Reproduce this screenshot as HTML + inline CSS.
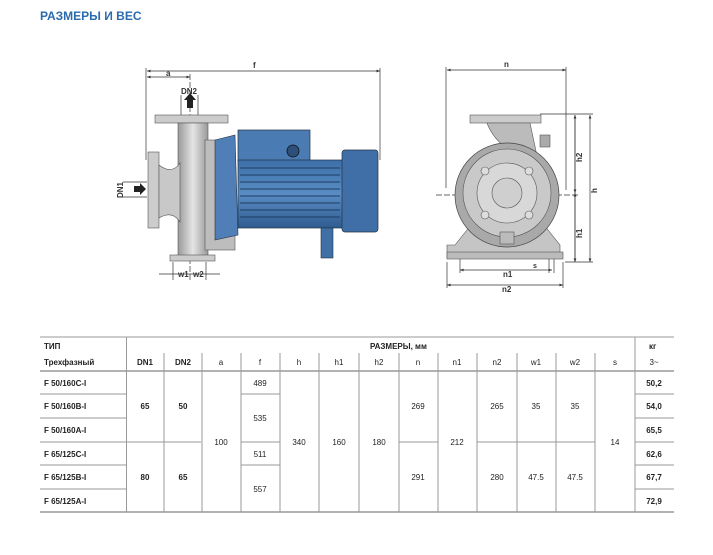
<!DOCTYPE html>
<html><head><meta charset="utf-8"><style>
body{margin:0;background:#fff;width:713px;height:555px;overflow:hidden}
svg{display:block;font-family:"Liberation Sans","DejaVu Sans",sans-serif}
</style></head><body>
<svg width="713" height="555" viewBox="0 0 713 555">
<defs>
<marker id="ar" viewBox="0 0 10 10" refX="10" refY="5" markerWidth="5" markerHeight="5" orient="auto-start-reverse"><path d="M0,1L10,5L0,9z" fill="#333"/></marker>
<linearGradient id="gy" x1="0" x2="1"><stop offset="0" stop-color="#9a9a9a"/><stop offset=".5" stop-color="#e4e4e4"/><stop offset="1" stop-color="#9a9a9a"/></linearGradient>
<linearGradient id="bl" x1="0" y1="0" x2="0" y2="1"><stop offset="0" stop-color="#3d6fa8"/><stop offset=".5" stop-color="#5a8cc4"/><stop offset="1" stop-color="#2f5c90"/></linearGradient>
</defs>
<text x="40" y="20" font-size="12" font-weight="bold" fill="#2a6aad">РАЗМЕРЫ И ВЕС</text>

<!-- LEFT VIEW -->
<g stroke="#333" stroke-width=".7" fill="none">
<line x1="147" y1="71" x2="380" y2="71" marker-start="url(#ar)" marker-end="url(#ar)"/>
<line x1="147" y1="77" x2="190" y2="77" marker-start="url(#ar)" marker-end="url(#ar)"/>
<line x1="146" y1="68" x2="146" y2="160"/><line x1="380" y1="68" x2="380" y2="160"/>
<line x1="190" y1="74" x2="190" y2="280" stroke-dasharray="6,2"/>
<line x1="181" y1="95" x2="181" y2="115"/><line x1="198" y1="95" x2="198" y2="115"/>
<line x1="123" y1="182" x2="147" y2="182"/><line x1="123" y1="197" x2="147" y2="197"/>
<line x1="159" y1="274" x2="220" y2="274"/>
<line x1="173" y1="262" x2="173" y2="280"/><line x1="206" y1="262" x2="206" y2="280"/>
</g>
<text x="253" y="68" font-size="8" font-weight="bold" fill="#333">f</text>
<text x="166" y="76" font-size="8" font-weight="bold" fill="#333">a</text>
<text x="181" y="94" font-size="8" font-weight="bold" fill="#333">DN2</text>
<text x="123" y="198" font-size="8" font-weight="bold" fill="#333" transform="rotate(-90 123 198)">DN1</text>
<text x="178" y="277" font-size="8" font-weight="bold" fill="#333">w1</text>
<text x="193" y="277" font-size="8" font-weight="bold" fill="#333">w2</text>
<path d="M187,108h6v-8h3l-6,-7l-6,7h3z" fill="#222"/>
<path d="M134,186h6v-3l6,6l-6,6v-3h-6z" fill="#222"/>
<!-- pump body -->
<rect x="155" y="115" width="73" height="8" fill="#ccc" stroke="#555" stroke-width=".6"/>
<rect x="178" y="123" width="30" height="135" fill="url(#gy)" stroke="#555" stroke-width=".6"/>
<rect x="148" y="152" width="11" height="76" fill="#ccc" stroke="#555" stroke-width=".6"/>
<path d="M159,165 Q172,175 180,163 V222 Q172,210 159,218z" fill="#c8c8c8" stroke="#555" stroke-width=".6"/>
<rect x="205" y="140" width="30" height="110" fill="#bdbdbd" stroke="#555" stroke-width=".6"/>
<rect x="170" y="255" width="45" height="6" fill="#ccc" stroke="#555" stroke-width=".6"/>
<path d="M215,140 L235,135 L238,235 L215,240z" fill="#4f7fb6" stroke="#234" stroke-width=".6"/>
<!-- motor -->
<rect x="238" y="130" width="72" height="32" fill="#4a7bb3" stroke="#234" stroke-width=".7"/>
<circle cx="293" cy="151" r="6" fill="#2d4f7a" stroke="#111" stroke-width=".8"/>
<rect x="238" y="160" width="108" height="68" fill="url(#bl)" stroke="#234" stroke-width=".7"/>
<g stroke="#1e3d63" stroke-width="1">
<line x1="240" y1="168" x2="340" y2="168"/><line x1="240" y1="175" x2="340" y2="175"/><line x1="240" y1="182" x2="340" y2="182"/><line x1="240" y1="189" x2="340" y2="189"/><line x1="240" y1="196" x2="340" y2="196"/><line x1="240" y1="203" x2="340" y2="203"/><line x1="240" y1="210" x2="340" y2="210"/><line x1="240" y1="217" x2="340" y2="217"/>
</g>
<rect x="342" y="150" width="36" height="82" rx="3" fill="#3f6fa6" stroke="#234" stroke-width=".7"/>
<rect x="321" y="228" width="12" height="30" fill="#3f6fa6" stroke="#234" stroke-width=".6"/>

<!-- RIGHT VIEW -->
<g stroke="#333" stroke-width=".7" fill="none">
<line x1="447" y1="70" x2="566" y2="70" marker-start="url(#ar)" marker-end="url(#ar)"/>
<line x1="446" y1="67" x2="446" y2="188"/><line x1="566" y1="67" x2="566" y2="190"/>
<line x1="575" y1="115" x2="575" y2="262" />
<line x1="575" y1="115" x2="575" y2="193" marker-start="url(#ar)" marker-end="url(#ar)"/>
<line x1="575" y1="193" x2="575" y2="262" marker-start="url(#ar)" marker-end="url(#ar)"/>
<line x1="590" y1="115" x2="590" y2="262" marker-start="url(#ar)" marker-end="url(#ar)"/>
<line x1="540" y1="114" x2="593" y2="114"/><line x1="565" y1="262" x2="593" y2="262"/>
<line x1="436" y1="195" x2="580" y2="195" stroke-dasharray="6,2"/>
<line x1="460" y1="270" x2="552" y2="270" marker-start="url(#ar)" marker-end="url(#ar)"/>
<line x1="447" y1="285" x2="563" y2="285" marker-start="url(#ar)" marker-end="url(#ar)"/>
<line x1="460" y1="258" x2="460" y2="273"/><line x1="447" y1="262" x2="447" y2="288"/><line x1="563" y1="262" x2="563" y2="288"/>
<line x1="549" y1="256" x2="549" y2="273"/><line x1="554" y1="256" x2="554" y2="273"/>
</g>
<text x="504" y="67" font-size="8" font-weight="bold" fill="#333">n</text>
<text x="503" y="277" font-size="8" font-weight="bold" fill="#333">n1</text>
<text x="502" y="292" font-size="8" font-weight="bold" fill="#333">n2</text>
<text x="533" y="268" font-size="7" font-weight="bold" fill="#333">s</text>
<text x="582" y="162" font-size="8" font-weight="bold" fill="#333" transform="rotate(-90 582 162)">h2</text>
<text x="582" y="238" font-size="8" font-weight="bold" fill="#333" transform="rotate(-90 582 238)">h1</text>
<text x="597" y="193" font-size="8" font-weight="bold" fill="#333" transform="rotate(-90 597 193)">h</text>
<path d="M455,245 L475,220 L540,220 L560,245 V258 H447 V245z" fill="#c5c5c5" stroke="#555" stroke-width=".6"/>
<rect x="447" y="252" width="116" height="7" fill="#bbb" stroke="#555" stroke-width=".6"/>
<rect x="470" y="115" width="71" height="8" fill="#ccc" stroke="#555" stroke-width=".6"/>
<path d="M487,123 Q495,145 525,160 L540,170 L530,123z" fill="#bbb" stroke="#555" stroke-width=".6"/>
<rect x="540" y="135" width="10" height="12" fill="#aaa" stroke="#555" stroke-width=".6"/>
<circle cx="507" cy="195" r="52" fill="#a9a9a9" stroke="#444" stroke-width=".7"/>
<circle cx="507" cy="193" r="44" fill="#c9c9c9" stroke="#555" stroke-width=".6"/>
<circle cx="507" cy="193" r="30" fill="#d8d8d8" stroke="#555" stroke-width=".6"/>
<circle cx="507" cy="193" r="15" fill="#cfcfcf" stroke="#555" stroke-width=".6"/>
<g fill="#ddd" stroke="#555" stroke-width=".6"><circle cx="485" cy="171" r="4"/><circle cx="529" cy="171" r="4"/><circle cx="485" cy="215" r="4"/><circle cx="529" cy="215" r="4"/></g>
<rect x="500" y="232" width="14" height="12" fill="#bbb" stroke="#555" stroke-width=".6"/>

<!-- TABLE -->
<g stroke="#999" stroke-width="1">
<line x1="40" y1="337" x2="674" y2="337"/>
<line x1="40" y1="371" x2="674" y2="371" stroke-width="1.5"/>
<line x1="40" y1="512" x2="674" y2="512" stroke-width="1.5"/>
<line x1="40" y1="394" x2="126" y2="394"/><line x1="40" y1="418" x2="126" y2="418"/><line x1="40" y1="442" x2="201" y2="442"/><line x1="40" y1="465" x2="126" y2="465"/><line x1="40" y1="489" x2="126" y2="489"/>
<line x1="241" y1="394" x2="280" y2="394"/><line x1="241" y1="442" x2="280" y2="442"/><line x1="241" y1="465" x2="280" y2="465"/>
<line x1="399" y1="442" x2="438" y2="442"/><line x1="477" y1="442" x2="595" y2="442"/>
<line x1="635" y1="394" x2="674" y2="394"/><line x1="635" y1="418" x2="674" y2="418"/><line x1="635" y1="442" x2="674" y2="442"/><line x1="635" y1="465" x2="674" y2="465"/><line x1="635" y1="489" x2="674" y2="489"/>
<line x1="126.5" y1="337" x2="126.5" y2="512"/><line x1="635" y1="337" x2="635" y2="512"/>
<g>
<line x1="164" y1="353" x2="164" y2="512"/><line x1="202" y1="353" x2="202" y2="512"/><line x1="241" y1="353" x2="241" y2="512"/><line x1="280" y1="353" x2="280" y2="512"/><line x1="319" y1="353" x2="319" y2="512"/><line x1="359" y1="353" x2="359" y2="512"/><line x1="399" y1="353" x2="399" y2="512"/><line x1="438" y1="353" x2="438" y2="512"/><line x1="477" y1="353" x2="477" y2="512"/><line x1="517" y1="353" x2="517" y2="512"/><line x1="556" y1="353" x2="556" y2="512"/><line x1="595" y1="353" x2="595" y2="512"/>
</g>
</g>
<g font-size="8" fill="#222" font-weight="bold">
<text x="44" y="349">ТИП</text><text x="44" y="365">Трехфазный</text>
<text x="370" y="349">РАЗМЕРЫ, мм</text>
<text x="649" y="349">кг</text>
<text x="44" y="386">F 50/160C-I</text><text x="44" y="409">F 50/160B-I</text><text x="44" y="433">F 50/160A-I</text>
<text x="44" y="457">F 65/125C-I</text><text x="44" y="480">F 65/125B-I</text><text x="44" y="504">F 65/125A-I</text>
</g>
<g font-size="8" fill="#222" text-anchor="middle">
<g font-weight="bold"><text x="145" y="365">DN1</text><text x="183" y="365">DN2</text>
<text x="145" y="409">65</text><text x="183" y="409">50</text><text x="145" y="480">80</text><text x="183" y="480">65</text>
<text x="654" y="386">50,2</text><text x="654" y="409">54,0</text><text x="654" y="433">65,5</text><text x="654" y="457">62,6</text><text x="654" y="480">67,7</text><text x="654" y="504">72,9</text></g>
<text x="221" y="365">a</text><text x="260" y="365">f</text><text x="299" y="365">h</text><text x="339" y="365">h1</text><text x="379" y="365">h2</text><text x="418" y="365">n</text><text x="457" y="365">n1</text><text x="497" y="365">n2</text><text x="536" y="365">w1</text><text x="575" y="365">w2</text><text x="615" y="365">s</text><text x="654" y="365">3~</text>
<text x="260" y="386">489</text><text x="260" y="421">535</text><text x="260" y="457">511</text><text x="260" y="492">557</text>
<text x="221" y="445">100</text><text x="299" y="445">340</text><text x="339" y="445">160</text><text x="379" y="445">180</text><text x="457" y="445">212</text><text x="615" y="445">14</text>
<text x="418" y="409">269</text><text x="497" y="409">265</text><text x="536" y="409">35</text><text x="575" y="409">35</text>
<text x="418" y="480">291</text><text x="497" y="480">280</text><text x="536" y="480">47.5</text><text x="575" y="480">47.5</text>
</g>
</svg>
</body></html>
